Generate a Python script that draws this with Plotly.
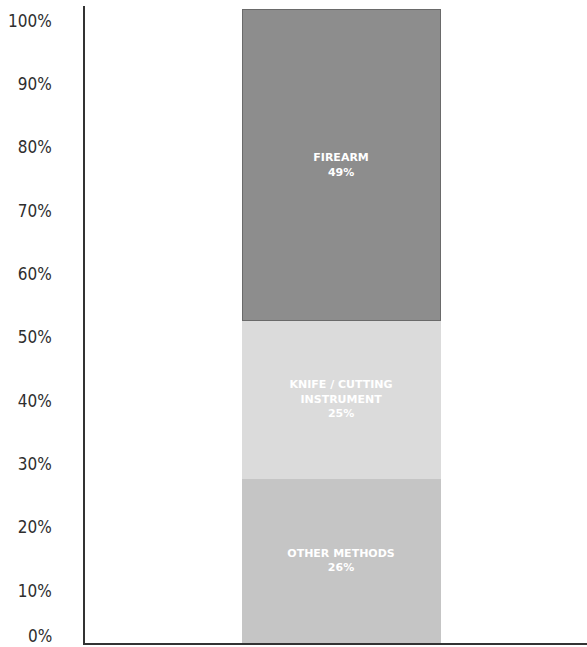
import plotly.graph_objects as go

categories = ["OTHER METHODS", "KNIFE / CUTTING<br>INSTRUMENT", "FIREARM"]
values = [26, 25, 49]
colors = ["#c5c5c5", "#dbdbdb", "#8d8d8d"]
line_colors = ["#c5c5c5", "#dbdbdb", "#6a6a6a"]
tick_values = [10, 20, 30, 40, 50, 60, 70, 80, 90, 100]
tick_text = ["10%", "20%", "30%", "40%", "50%", "60%", "70%", "80%", "90%", "100%"]

label_font = dict(family="DejaVu Sans Condensed", size=17, color="#2e2e2e")

fig = go.Figure()
for name, v, c, lc in zip(categories, values, colors, line_colors):
    fig.add_trace(go.Bar(
        x=[0], y=[v], width=1, name=name,
        marker=dict(color=c, line=dict(color=lc, width=1)),
        text=[f"{name}<br>{v}%"], textposition="inside", insidetextanchor="middle",
        textfont=dict(color="white", size=11, family="DejaVu Sans", weight="bold"),
        textangle=0, showlegend=False,
    ))

fig.update_layout(
    barmode="stack",
    width=587, height=647,
    margin=dict(l=85, r=0, t=6, b=4, autoexpand=False),
    paper_bgcolor="white", plot_bgcolor="white",
    uniformtext=dict(minsize=8, mode="show"),
    xaxis=dict(range=[-1.293, 1.242], showticklabels=False, showgrid=False, zeroline=False,
               showline=True, linecolor="#333333", linewidth=1.5, ticks="", automargin=False),
    yaxis=dict(range=[0, 100.6], tickvals=tick_values, ticktext=tick_text, showgrid=False,
               zeroline=False, showline=True, linecolor="#333333", linewidth=1.5, ticks="",
               ticklabelshift=11, ticklabelstandoff=28, automargin=False,
               tickfont=label_font),
)
fig.add_annotation(x=0, xref="paper", y=0, yref="y", text="0%", showarrow=False,
                   xanchor="right", yanchor="middle", xshift=-31, yshift=7,
                   font=label_font)
fig.write_html("out.html")
